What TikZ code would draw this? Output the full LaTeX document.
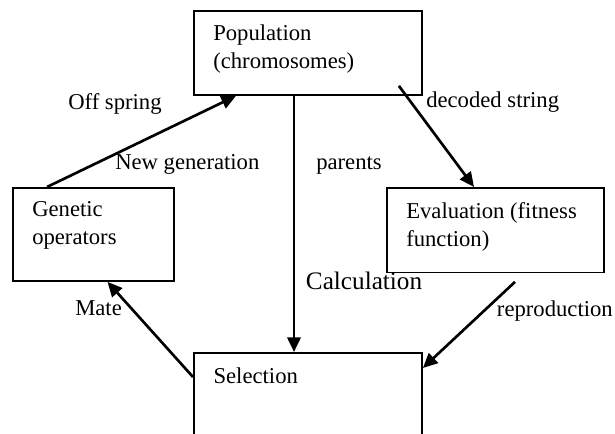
\documentclass[tikz,border=0pt]{standalone}
\usepackage{fontspec}
\setmainfont{Liberation Serif}
\usetikzlibrary{arrows.meta,calc}
\begin{document}
\begin{tikzpicture}[x=0.75pt,y=-0.75pt,
  box/.style={draw,line width=1.4pt,rectangle,inner sep=0pt,anchor=north west},
  arr/.style={line width=2pt,-{Triangle[length=11pt,width=10pt]}},
  lbl/.style={anchor=base west,inner sep=0pt,font=\fontsize{17}{21.5}\selectfont,align=left},
  big/.style={anchor=base west,inner sep=0pt,font=\fontsize{18.9}{22}\selectfont}]
\clip (0,0) rectangle (615,434);
\node[box,minimum width=171pt,minimum height=63pt] (pop) at (193,10) {};
\node[box,minimum width=120.75pt,minimum height=69.75pt] (gen) at (12,187) {};
\node[box,minimum width=162.75pt,minimum height=63.4pt] (eva) at (386,187) {};
\node[box,minimum width=171pt,minimum height=75pt] (sel) at (193,352) {};
% box texts (anchor is the baseline of the last line)
\node[lbl] (tpop) at (213,69) {Population\\(chromosomes)};
\node[lbl] (tgen) at (32,245) {Genetic\\operators};
\node[lbl] (teva) at (406,247) {Evaluation (fitness\\function)};
\node[lbl] (tsel) at (213.3,384) {Selection};
% connector labels
\node[lbl] (loff) at (68,110) {Off spring};
\node[lbl] (lnew) at (115,169.3) {New generation};
\node[lbl] (ldec) at (426,108) {decoded string};
\node[lbl] (lpar) at (316,170) {parents};
\node[big] (lcal) at (305.7,290) {Calculation};
\node[lbl] (lrep) at (496.7,316.7) {reproduction};
\node[lbl] (lmat) at (75,316) {Mate};
% connectors
\coordinate (repstart) at ($(eva.south west)+(129,8.5)$);
\draw[arr] ($(gen.north west)+(35,0)$) -- ($(pop.south west)+(43,0)$);
\draw[arr] ($(pop.south west)+(101,0)$) -- ($(sel.north west)+(101,0)$);
\draw[arr] ($(pop.south east)+(-24,-10)$) -- ($(eva.north west)+(88,0)$);
\draw[arr] (repstart) -- ($(sel.north east)+(0,16)$);
\draw[arr] ($(sel.north west)+(0,25)$) -- ($(gen.south west)+(95.5,0)$);
\end{tikzpicture}
\end{document}
